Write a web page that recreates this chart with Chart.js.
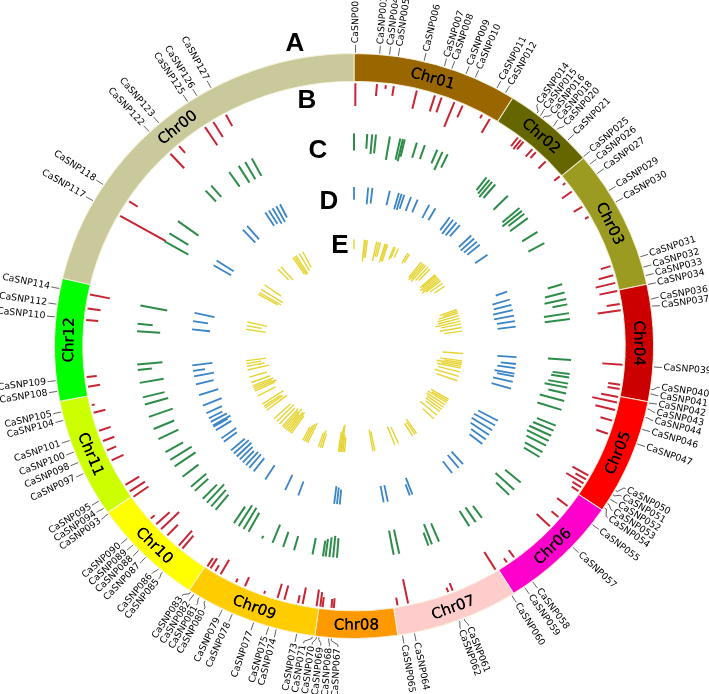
<!DOCTYPE html>
<html>
<head>
<meta charset="utf-8">
<script src="https://cdn.jsdelivr.net/npm/chart.js@4.4.1/dist/chart.umd.min.js"></script>
<style>
  html, body { margin: 0; padding: 0; background: #fff; }
  #wrap { position: relative; width: 709px; height: 694px; }
</style>
</head>
<body>
<div id="wrap"><canvas id="circos" width="709" height="694"></canvas></div>
<script>
// Chromosomes, laid out clockwise from the top
const chrNames = ['Chr01', 'Chr02', 'Chr03', 'Chr04', 'Chr05', 'Chr06', 'Chr07', 'Chr08', 'Chr09', 'Chr10', 'Chr11', 'Chr12', 'Chr00'];
const chrLengths = [320, 180, 278, 232, 231, 237, 238, 159, 259, 219, 238, 243, 766];
const chrColors = ['rgb(153,102,0)', 'rgb(102,102,0)', 'rgb(155,155,34)', 'rgb(204,0,0)', 'rgb(255,0,0)', 'rgb(255,0,204)',
    'rgb(255,204,204)', 'rgb(255,153,0)', 'rgb(255,204,0)', 'rgb(255,255,0)', 'rgb(204,255,0)', 'rgb(0,255,0)', 'rgb(201,201,155)'];

// SNPs (position = Mb along the concatenated genome), track B values
const snpIds = ['CaSNP001','CaSNP003','CaSNP004','CaSNP005','CaSNP006','CaSNP007','CaSNP008','CaSNP009','CaSNP010','CaSNP011','CaSNP012',
    'CaSNP014','CaSNP015','CaSNP016','CaSNP018','CaSNP020','CaSNP021','CaSNP025','CaSNP026','CaSNP027','CaSNP029','CaSNP030',
    'CaSNP031','CaSNP032','CaSNP033','CaSNP034','CaSNP036','CaSNP037','CaSNP039',
    'CaSNP040','CaSNP041','CaSNP042','CaSNP043','CaSNP044','CaSNP046','CaSNP047',
    'CaSNP050','CaSNP051','CaSNP052','CaSNP053','CaSNP054','CaSNP055','','CaSNP057',
    'CaSNP058','CaSNP059','CaSNP060','CaSNP061','CaSNP062','CaSNP064','CaSNP065',
    'CaSNP067','CaSNP068','CaSNP069','CaSNP070','CaSNP071','CaSNP073','','CaSNP074','CaSNP075','CaSNP077','CaSNP078','CaSNP079','CaSNP080','CaSNP081','CaSNP082','CaSNP083',
    'CaSNP085','CaSNP086','CaSNP087','CaSNP088','CaSNP089','CaSNP090',
    'CaSNP093','CaSNP094','CaSNP095','CaSNP097','CaSNP098','CaSNP100','CaSNP101','CaSNP104','CaSNP105',
    'CaSNP108','CaSNP109','CaSNP110','CaSNP112','CaSNP114',
    'CaSNP117','CaSNP118','CaSNP122','CaSNP123','CaSNP125','CaSNP126','CaSNP127'];
const snpPos = [3,49,68,85,135,175,190,219,238,284,303,
    375,383,390,415,425,454,498,517,540,580,606,
    723,744,761,779,808,822,941,
    985,994,1012,1024,1041,1065,1095,
    1195,1205,1215,1225,1235,1275,1306,1333,
    1435,1454,1483,1585,1595,1684,1707,
    1843,1848,1867,1872,1880,1910,1920,1950,1965,1995,2039,2060,2097,2110,2122,2130,
    2196,2206,2239,2258,2273,2290,
    2350,2364,2381,2442,2466,2488,2512,2553,2570,
    2611,2632,2757,2782,2813,
    2997,3034,3170,3195,3264,3285,3316];
const trackB = [23,12,4,10,19,17,16,27,13,4,16,
    11,12,10,10,8,10,7,3,12,10,4,
    10,15,20,18,13,23,20,
    12,12,17,25,20,12,12,
    18,12,20,10,8,13,9,18,
    9,5,21,8,5,25,8,
    10,9,10,15,17,17,8,15,15,3,10,4,17,7,12,10,
    17,20,15,25,18,5,
    18,18,16,13,10,12,12,12,3,
    12,10,12,13,20,
    52,10,20,9,22,18,13];

// Track C
const trackCPos = [0,35,48,58,95,123,130,135,168,190,225,240,255,
    375,385,394,405,450,
    495,505,515,530,575,610,731,754,772,
    787,811,827,938,976,985,1002,
    1013,1029,1050,1075,1120,1135,1150,1165,1180,1200,1215,
    1300,1326,1345,1440,1460,
    1480,1570,1590,1600,1680,1695,
    1845,1855,1865,1875,1882,1910,
    1960,1990,2020,2050,2090,2105,2120,2135,
    2195,2210,2225,2240,2270,2285,2320,
    2355,2376,2400,2440,2470,2505,2540,2560,2600,
    2635,2650,2740,2760,2810,
    2995,3020,3060,3170,3190,3250,3280,3300,3320];
const trackCVal = [17,15,20,19,24,22,23,18,16,15,15,20,15,
    16,18,20,18,20,
    22,25,20,22,18,18,15,20,22,
    15,25,25,23,17,18,20,
    23,18,25,25,20,22,24,24,22,20,18,
    20,25,18,15,18,
    18,20,22,14,25,25,
    20,22,20,18,16,17,
    15,16,20,3,22,25,25,20,
    20,22,25,20,18,20,20,
    25,25,20,22,22,25,24,22,24,
    14,25,23,15,27,
    27,22,25,15,15,18,20,20,20];

// Track D
const trackDPos = [0,50,65,127,160,170,180,205,230,275,300,
    360,375,390,405,460,
    475,490,505,550,700,730,750,770,
    790,810,830,940,965,980,1000,
    1010,1030,1055,1180,1200,1220,1240,
    1260,1280,1380,1400,1430,
    1590,1600,1680,1695,
    1850,1860,1870,
    2000,2050,2130,
    2180,2200,2215,2230,2245,2260,2275,2290,2330,2345,
    2380,2395,2400,2415,2430,2450,2480,2520,2560,
    2590,2610,2630,2760,2790,2820,
    3005,3025,3170,3190,3270,3285,3300,3315,3330];
const trackDVal = [13,17,16,15,17,17,15,15,14,15,14,
    16,18,17,15,17,
    18,17,16,15,12,18,18,20,
    20,18,18,19,15,18,20,
    17,20,20,22,24,24,22,
    18,16,17,17,15,
    18,12,17,17,
    15,17,18,
    15,17,17,
    17,18,18,16,18,20,20,18,16,18,
    18,16,20,18,15,17,20,20,18,
    20,12,20,18,15,20,
    20,20,18,18,16,16,18,18,15];

// Track E
const trackEPos = [0,55,62,70,120,130,140,165,172,180,215,222,240,295,305,
    380,390,400,410,425,440,480,487,495,505,
    515,525,540,560,700,710,720,735,750,765,
    780,800,820,940,980,990,1000,
    1010,1020,1040,1065,1090,1200,1210,1220,1235,1250,
    1265,1280,1305,1330,1450,1460,1475,
    1560,1580,1690,1700,
    1850,1858,1864,1870,1876,1882,
    1970,1980,1990,2050,2060,2070,2080,
    2150,2160,2170,2180,2190,2200,2210,2230,2250,2270,2330,2345,2355,
    2370,2420,2450,2460,2470,2480,2500,2530,2570,
    2590,2605,2620,2790,2810,2830,
    2990,3000,3020,3050,3160,3180,3260,3270,3280,3300,3320];
const trackEVal = [10,22,18,18,20,15,15,20,18,18,14,12,10,12,10,
    20,22,20,22,18,16,20,18,22,20,
    22,18,15,12,18,15,20,22,22,25,
    20,22,18,20,22,18,25,
    20,24,22,25,22,20,18,22,22,20,
    20,18,22,15,18,15,15,
    18,20,20,22,
    15,18,28,26,22,20,
    15,18,15,22,20,18,15,
    22,25,24,20,26,22,24,22,24,22,25,22,20,
    25,20,22,24,20,22,20,18,22,
    18,15,20,20,15,20,
    22,25,25,20,15,18,20,22,22,20,18];

const trackLetters = ['A', 'B', 'C', 'D', 'E'];

// the picture is slightly squashed vertically
const SX = 1.012, SY = 0.988;
const R_OUT = 296, R_IN = 268;

function angleAt(chart, pos) {
    const arcs = chart.getDatasetMeta(0).data;
    let start = 0;
    for (let i = 0; i < chrLengths.length; i++) {
        const len = chrLengths[i];
        if (pos <= start + len || i === chrLengths.length - 1) {
            const a = arcs[i];
            return a.startAngle + (pos - start) / len * (a.endAngle - a.startAngle);
        }
        start += len;
    }
}

function pt(cx, cy, r, a) {
    return [cx + SX * r * Math.cos(a), cy + SY * r * Math.sin(a)];
}

function drawTrack(ctx, chart, positions, values, r0, vmax, depth, color, width) {
    const c = chart.getDatasetMeta(0).data[0];
    ctx.strokeStyle = color;
    ctx.lineWidth = width;
    ctx.lineCap = 'butt';
    positions.forEach((p, i) => {
        const a = angleAt(chart, p);
        const len = values[i] / vmax * depth;
        const p1 = pt(c.x, c.y, r0, a);
        const p2 = pt(c.x, c.y, r0 - len, a);
        ctx.beginPath();
        ctx.moveTo(p1[0], p1[1]);
        ctx.lineTo(p2[0], p2[1]);
        ctx.stroke();
    });
}

function spread(angles, gap) {
    const out = angles.slice();
    for (let it = 0; it < 400; it++) {
        let moved = false;
        for (let i = 1; i < out.length; i++) {
            const d = out[i] - out[i - 1];
            if (d < gap - 1e-6) {
                const m = (gap - d) / 2;
                out[i - 1] -= m;
                out[i] += m;
                moved = true;
            }
        }
        if (!moved) break;
    }
    return out;
}

const circosPlugin = {
    id: 'circos',
    beforeDatasetsDraw(chart) {
        const ctx = chart.ctx;
        const c = chart.getDatasetMeta(0).data[0];
        ctx.save();
        ctx.translate(c.x, c.y);
        ctx.scale(SX, SY);
        ctx.translate(-c.x, -c.y);
    },
    afterDatasetsDraw(chart) {
        const ctx = chart.ctx;
        ctx.restore();
        const arcs = chart.getDatasetMeta(0).data;
        const cx = arcs[0].x, cy = arcs[0].y;

        // chromosome names along the ring
        ctx.save();
        ctx.font = '15px "DejaVu Sans"';
        ctx.fillStyle = '#000';
        ctx.textAlign = 'center';
        ctx.textBaseline = 'middle';
        arcs.forEach((arc, i) => {
            const a = (arc.startAngle + arc.endAngle) / 2;
            const p = pt(cx, cy, (R_IN + R_OUT) / 2, a);
            let theta = a + Math.PI / 2;
            while (theta < 0) theta += Math.PI * 2;
            while (theta >= Math.PI * 2) theta -= Math.PI * 2;
            const rot = (theta > Math.PI / 2 && theta < Math.PI * 1.5) ? theta - Math.PI : theta;
            ctx.save();
            ctx.translate(p[0], p[1]);
            ctx.rotate(rot);
            ctx.fillText(chrNames[i], 0, 1);
            ctx.fillText(chrNames[i], 0.3, 1);
            ctx.restore();
        });
        ctx.restore();

        // histogram tracks
        ctx.save();
        drawTrack(ctx, chart, snpPos, trackB, 266, 55, 55, 'rgb(200,36,52)', 2);
        drawTrack(ctx, chart, trackCPos, trackCVal, 215, 30, 30, 'rgb(46,140,74)', 2);
        drawTrack(ctx, chart, trackDPos, trackDVal, 161, 30, 30, 'rgb(58,132,200)', 1.8);
        drawTrack(ctx, chart, trackEPos, trackEVal, 108, 30, 30, 'rgb(230,212,50)', 1.4);
        ctx.restore();

        // SNP labels with connectors
        const labelled = [];
        snpIds.forEach((id, i) => { if (id) labelled.push({ id, a: angleAt(chart, snpPos[i]) }); });
        const spreadA = spread(labelled.map(l => l.a), 1.6 * Math.PI / 180);
        ctx.save();
        ctx.strokeStyle = '#333';
        ctx.lineWidth = 0.8;
        ctx.fillStyle = '#000';
        ctx.font = '9.3px "DejaVu Sans"';
        ctx.textBaseline = 'middle';
        labelled.forEach((l, i) => {
            const la = spreadA[i];
            const q1 = pt(cx, cy, R_OUT + 1, l.a);
            const q2 = pt(cx, cy, R_OUT + 3, l.a);
            const q3 = pt(cx, cy, R_OUT + 7, la);
            const q4 = pt(cx, cy, R_OUT + 9, la);
            ctx.beginPath();
            ctx.moveTo(q1[0], q1[1]);
            ctx.lineTo(q2[0], q2[1]);
            ctx.lineTo(q3[0], q3[1]);
            ctx.lineTo(q4[0], q4[1]);
            ctx.stroke();
            const tp = pt(cx, cy, R_OUT + 10.5, la);
            let theta = la + Math.PI / 2;
            while (theta < 0) theta += Math.PI * 2;
            while (theta >= Math.PI * 2) theta -= Math.PI * 2;
            ctx.save();
            ctx.translate(tp[0], tp[1]);
            if (theta < Math.PI) {
                ctx.rotate(la);
                ctx.textAlign = 'left';
            } else {
                ctx.rotate(la + Math.PI);
                ctx.textAlign = 'right';
            }
            ctx.fillText(l.id, 0, 0);
            ctx.restore();
        });
        ctx.restore();

        // track letters
        const letterXY = [[295, 44], [307, 101], [318, 151], [329, 202], [340, 246]];
        ctx.save();
        ctx.font = 'bold 26px "Liberation Sans"';
        ctx.fillStyle = '#000';
        ctx.textAlign = 'center';
        ctx.textBaseline = 'middle';
        trackLetters.forEach((t, i) => ctx.fillText(t, letterXY[i][0], letterXY[i][1]));
        ctx.restore();
    }
};

new Chart(document.getElementById('circos'), {
    type: 'doughnut',
    data: {
        labels: chrNames,
        datasets: [{
            data: chrLengths,
            backgroundColor: chrColors,
            borderColor: 'rgba(245,242,220,0.9)',
            borderWidth: 1
        }]
    },
    options: {
        responsive: false,
        animation: false,
        radius: R_OUT,
        cutout: (R_IN / R_OUT * 100).toFixed(2) + '%',
        layout: { padding: { left: 0, right: 1, top: 0, bottom: 2 } },
        plugins: { legend: { display: false }, tooltip: { enabled: false } },
        events: []
    },
    plugins: [circosPlugin]
});
</script>
</body>
</html>
